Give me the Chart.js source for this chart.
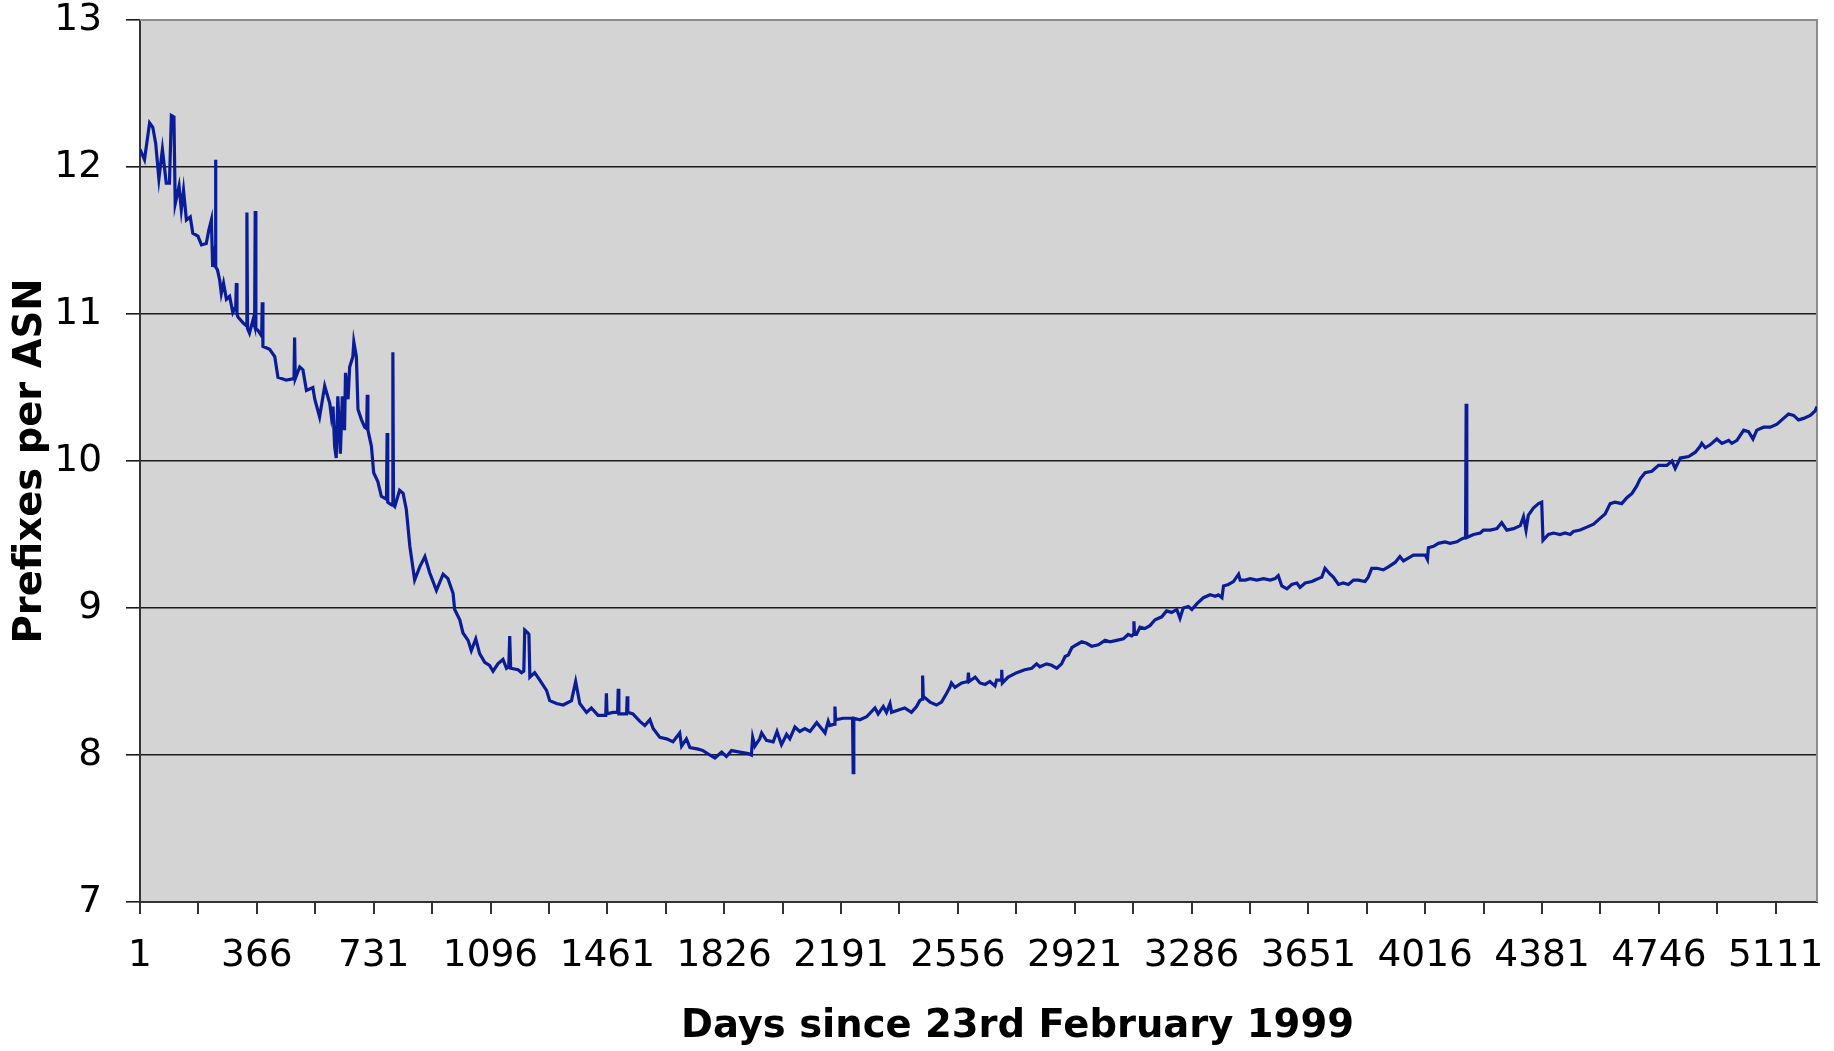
<!DOCTYPE html>
<html>
<head>
<meta charset="utf-8">
<script src="https://cdn.jsdelivr.net/npm/chart.js@4.4.1/dist/chart.umd.min.js"></script>
<style>
html,body{margin:0;padding:0;background:#ffffff;}
#wrap{width:1834px;height:1051px;}
</style>
</head>
<body>
<div id="wrap"><canvas id="c" width="1834" height="1051"></canvas></div>
<script>
// ---- data ----
const days = [
1,15,31,41,50,60,71,83,93,99,107,111,123,130,137,146,158,166,182,193,208,216,224,228,233,236,237,238,243,250,255,262,271,281,291,300,302,304,307,323,333,335,337,343,354,359,361,363,369,381,383,385,406,422,432,458,482,484,486,
500,510,521,541,547,562,578,594,599,604,609,614,619,627,633,640,643,651,656,666,669,677,682,693,703,709,711,713,724,731,744,755,771,773,775,781,789,791,793,797,812,823,833,844,859,875,891,906,927,948,963,979,984,
1000,1010,1026,1036,1050,1062,1078,1093,1104,1119,1135,1146,1153,1156,1159,1182,1193,1200,1203,1213,1216,1219,1234,1250,1271,1281,1302,1323,1349,1362,1375,1396,1411,1432,1456,1458,1460,1479,1493,1495,1497,1500,1521,1523,1525,1541,1562,1578,1594,1604,1625,1646,1666,1687,1693,1708,1719,1745,1760,1781,1797,1818,1833,1849,1875,1901,1911,1915,1922,1937,1943,1958,1979,1991,
2005,2021,2031,2047,2062,2078,2094,2115,2130,2141,2151,2156,2170,2172,2174,2198,2219,2227,2229,2231,2250,2271,2297,2307,2323,2333,2344,2349,2375,2390,2411,2427,2437,2444,2446,2448,2453,2469,2489,2505,2521,2531,2536,2547,2568,2587,2589,2591,2610,2625,2641,2656,2672,2677,2691,2693,2695,2713,2740,2765,2787,2802,2812,2833,2849,2865,2880,2891,2901,2912,2927,2943,2958,2974,2995,
3016,3031,3052,3073,3088,3099,3104,3106,3108,3114,3125,3140,3156,3172,3193,3208,3224,3240,3250,3260,3276,3287,3303,3323,3344,3360,3370,3381,3386,3401,3417,3433,3438,3454,3469,3490,3511,3532,3547,3557,3568,3584,3599,3615,3625,3641,3662,3672,3682,3693,3703,3719,3729,3745,3760,3776,3792,3807,3828,3838,3849,3865,3885,3901,3922,3937,3948,3963,3979,
4000,4016,4023,4026,4042,4057,4078,4094,4115,4130,4142,4144,4146,4167,4188,4198,4219,4240,4255,4271,4292,4313,4323,4331,4338,4354,4370,4380,4384,4401,4417,4437,4453,4469,4479,4500,4521,4542,4562,4578,4594,4609,4630,4646,4662,4677,4688,4703,4724,4745,4771,4787,4797,4813,4839,4860,4875,4880,4891,4906,4927,4943,4964,4974,4990,
5011,5026,5040,5052,5073,5094,5115,5130,5151,5167,5182,5198,5219,5234,5240
];
const prefixesPerAsn = [
12.12,12.05,12.30,12.27,12.16,11.92,12.12,11.89,11.89,12.35,12.34,11.75,11.87,11.71,11.84,11.64,11.66,11.55,11.53,11.47,11.48,11.57,11.64,11.32,11.40,11.35,12.05,11.32,11.30,11.23,11.14,11.21,11.10,11.12,11.01,11.05,11.21,11.00,10.98,10.94,10.92,11.69,10.90,10.87,10.96,10.92,11.70,10.90,10.89,10.85,11.08,10.78,10.76,10.71,10.57,10.55,10.56,10.84,10.56,
10.64,10.62,10.48,10.50,10.42,10.30,10.51,10.39,10.30,10.37,10.10,10.02,10.44,10.05,10.44,10.21,10.60,10.42,10.64,10.71,10.81,10.71,10.35,10.28,10.23,10.22,10.45,10.21,10.10,9.92,9.86,9.76,9.74,10.19,9.72,9.71,9.70,10.74,9.70,9.69,9.80,9.78,9.67,9.42,9.19,9.28,9.35,9.24,9.12,9.23,9.20,9.10,8.99,
8.92,8.83,8.78,8.71,8.79,8.69,8.63,8.61,8.57,8.62,8.65,8.59,8.60,8.81,8.59,8.58,8.56,8.57,8.85,8.83,8.82,8.53,8.56,8.51,8.44,8.37,8.35,8.34,8.37,8.50,8.35,8.29,8.32,8.27,8.27,8.42,8.28,8.29,8.29,8.45,8.28,8.28,8.28,8.40,8.29,8.28,8.23,8.20,8.24,8.18,8.12,8.11,8.09,8.15,8.06,8.11,8.05,8.04,8.03,8.00,7.98,8.02,7.99,8.03,8.02,8.01,8.00,8.12,8.06,8.11,8.15,8.10,8.09,8.16,
8.07,8.14,8.11,8.19,8.16,8.18,8.16,8.22,8.18,8.15,8.23,8.20,8.21,8.33,8.24,8.25,8.25,8.25,7.88,8.25,8.24,8.26,8.32,8.28,8.33,8.29,8.35,8.29,8.31,8.32,8.29,8.33,8.37,8.38,8.54,8.40,8.39,8.36,8.34,8.36,8.42,8.46,8.49,8.46,8.49,8.50,8.56,8.50,8.53,8.49,8.48,8.50,8.47,8.51,8.51,8.58,8.49,8.53,8.56,8.58,8.59,8.62,8.60,8.62,8.61,8.59,8.62,8.67,8.68,8.73,8.75,8.77,8.76,8.74,8.75,
8.78,8.77,8.78,8.79,8.82,8.81,8.82,8.91,8.82,8.82,8.87,8.86,8.88,8.92,8.94,8.98,8.97,8.99,8.93,9.00,9.01,8.99,9.03,9.07,9.09,9.08,9.09,9.07,9.15,9.16,9.18,9.23,9.19,9.19,9.20,9.19,9.20,9.19,9.20,9.22,9.15,9.13,9.16,9.17,9.14,9.17,9.18,9.19,9.20,9.21,9.27,9.23,9.21,9.16,9.17,9.16,9.19,9.19,9.18,9.21,9.27,9.27,9.26,9.28,9.31,9.35,9.32,9.34,9.36,
9.36,9.36,9.33,9.41,9.42,9.44,9.45,9.44,9.45,9.47,9.48,10.39,9.48,9.50,9.51,9.53,9.53,9.54,9.58,9.53,9.54,9.56,9.62,9.53,9.63,9.68,9.71,9.72,9.46,9.50,9.51,9.50,9.51,9.50,9.52,9.53,9.55,9.57,9.61,9.64,9.71,9.72,9.71,9.75,9.78,9.83,9.88,9.92,9.93,9.97,9.97,10.00,9.95,10.02,10.03,10.06,10.10,10.12,10.09,10.11,10.15,10.12,10.14,10.12,10.14,
10.21,10.20,10.15,10.21,10.23,10.23,10.25,10.28,10.32,10.31,10.28,10.29,10.31,10.34,10.37
];
const xTickLabels = [1,366,731,1096,1461,1826,2191,2556,2921,3286,3651,4016,4381,4746,5111];
const yTickValues = [7,8,9,10,11,12,13];
const xAxisTitle = 'Days since 23rd February 1999';
const yAxisTitle = 'Prefixes per ASN';

// ---- chart ----
const FONT = '"DejaVu Sans", Verdana, sans-serif';
const points = days.map((d, i) => ({x: d, y: prefixesPerAsn[i]}));

// half-year minor ticks between labelled ones
const allXTicks = [];
xTickLabels.forEach((v, i) => {
  allXTicks.push(v);
  const next = xTickLabels[i + 1] !== undefined ? xTickLabels[i + 1] : v + 365;
  const mid = (v + next) / 2;
  if (mid <= days[days.length - 1]) allXTicks.push(mid);
});

const plotFrame = {
  id: 'plotFrame',
  beforeDraw(chart) {
    const {ctx, chartArea: a} = chart;
    ctx.save();
    ctx.fillStyle = '#ffffff';
    ctx.fillRect(0, 0, chart.width, chart.height);
    ctx.fillStyle = '#d4d4d4';
    ctx.fillRect(a.left, a.top, a.right - a.left, a.bottom - a.top);
    ctx.restore();
  },
  beforeDatasetsDraw(chart) {
    const {ctx, chartArea: a} = chart;
    ctx.save();
    ctx.strokeStyle = '#8c8c8c';
    ctx.lineWidth = 2;
    ctx.beginPath();
    ctx.moveTo(a.left, a.top);
    ctx.lineTo(a.right, a.top);
    ctx.lineTo(a.right, a.bottom);
    ctx.stroke();
    ctx.restore();
  },
  afterDraw(chart) {
    const {ctx, chartArea: a} = chart;
    ctx.save();
    ctx.font = 'bold 38.5px ' + FONT;
    ctx.fillStyle = '#000000';
    ctx.textAlign = 'center';
    ctx.textBaseline = 'middle';
    ctx.fillText(xAxisTitle, (a.left + a.right) / 2 + 39, 1027);
    ctx.restore();
  }
};

new Chart(document.getElementById('c'), {
  type: 'line',
  data: {
    datasets: [{
      label: yAxisTitle,
      data: points,
      borderColor: '#0b1d96',
      borderWidth: 3.2,
      pointRadius: 0,
      tension: 0,
      fill: false
    }]
  },
  options: {
    responsive: false,
    animation: false,
    devicePixelRatio: 1,
    layout: {padding: {top: 20, right: 17, left: 0, bottom: 0}},
    plugins: {legend: {display: false}, tooltip: {enabled: false}},
    scales: {
      x: {
        type: 'linear',
        min: 1,
        max: days[days.length - 1],
        afterBuildTicks(scale) { scale.ticks = allXTicks.map(v => ({value: v})); },
        afterFit(scale) { scale.height = 149; scale.paddingLeft = 0; scale.paddingRight = 0; },
        grid: {display: true, drawOnChartArea: false, drawTicks: true, tickLength: 12, color: '#333333', lineWidth: 2},
        border: {display: true, color: '#333333', width: 2},
        ticks: {
          autoSkip: false, maxRotation: 0, minRotation: 0, padding: 20,
          color: '#000000', font: {family: FONT, size: 37.5},
          callback: (v) => xTickLabels.includes(v) ? String(v) : ''
        }
      },
      y: {
        type: 'linear',
        min: yTickValues[0],
        max: yTickValues[yTickValues.length - 1],
        afterBuildTicks(scale) { scale.ticks = yTickValues.map(v => ({value: v})); },
        afterFit(scale) { scale.width = 140; scale.paddingTop = 0; scale.paddingBottom = 0; },
        grid: {display: true, drawOnChartArea: true, drawTicks: true, tickLength: 14, color: '#1a1a1a', lineWidth: 1.6},
        border: {display: true, color: '#333333', width: 2},
        ticks: {padding: 24, color: '#000000', font: {family: FONT, size: 37.5}},
        title: {display: true, text: yAxisTitle, color: '#000000', font: {family: FONT, size: 38.5, weight: 'bold'}, padding: {top: 8, bottom: 0}}
      }
    }
  },
  plugins: [plotFrame]
});
</script>
</body>
</html>
